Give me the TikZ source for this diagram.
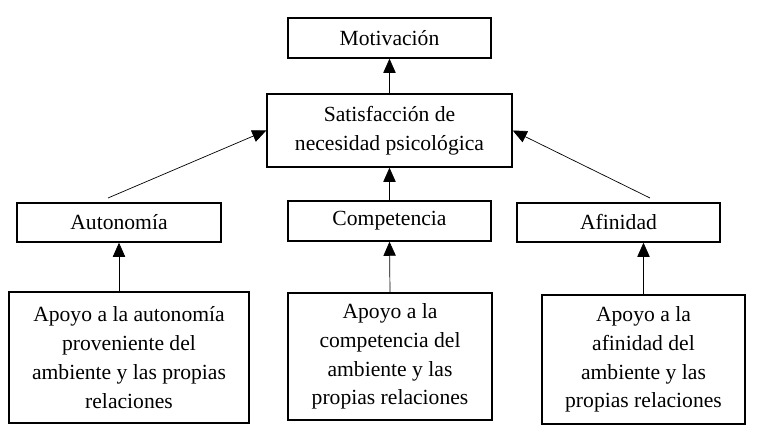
\documentclass[tikz,border=0pt]{standalone}
\usepackage{fontspec}
\setmainfont{Liberation Serif}
\usetikzlibrary{arrows.meta}
\tikzset{
  caja/.style={draw, thick, align=center, inner sep=0pt,
    font=\fontsize{12.3}{16.4}\selectfont},
  flecha/.style={-{Triangle[length=8pt,width=7pt]}, thin}
}
\begin{document}
\begin{tikzpicture}[x=0.02cm, y=-0.02cm]
  \useasboundingbox (0,0) rectangle (762,438);
  % fila superior
  \node[caja, minimum width=203*0.02cm, minimum height=40*0.02cm] (mot) at (389.5,38) {Motivación};
  \node[caja, minimum width=245*0.02cm, minimum height=73*0.02cm] (sat) at (389.5,130.5) {Satisfacción de\\necesidad psicológica};
  % necesidades
  \node[caja, minimum width=204*0.02cm, minimum height=39*0.02cm] (aut) at (119,222.5) {Autonomía};
  \node[caja, minimum width=203*0.02cm, minimum height=40*0.02cm] (com) at (389.5,221) {Competencia};
  \node[caja, minimum width=203*0.02cm, minimum height=39*0.02cm] (afi) at (618.5,222.5) {Afinidad};
  % apoyos
  \node[caja, minimum width=240*0.02cm, minimum height=131*0.02cm] (apaut) at (129,357.5) {Apoyo a la autonomía\\proveniente del\\ambiente y las propias\\relaciones};
  \node[caja, minimum width=204*0.02cm, minimum height=127*0.02cm] (apcom) at (390,356.5) {Apoyo a la\\competencia del\\ambiente y las\\propias relaciones};
  \node[caja, minimum width=203*0.02cm, minimum height=129*0.02cm] (apafi) at (643.5,359.5) {Apoyo a la\\afinidad del\\ambiente y las\\propias relaciones};
  % flechas
  \coordinate (a1) at (108,198);
  \coordinate (a2) at (650,198);
  \draw[flecha] (sat.north) -- (mot.south);
  \draw[flecha] (com.north) -- (sat.south);
  \draw[flecha] (a1) -- (sat.west);
  \draw[flecha] (a2) -- (sat.east);
  \draw[flecha] (apaut.north -| aut.south) -- (aut.south);
  \draw[flecha] (apcom.north) -- (com.south);
  \draw[flecha] (apafi.north) -- (apafi.north |- afi.south);
\end{tikzpicture}
\end{document}
